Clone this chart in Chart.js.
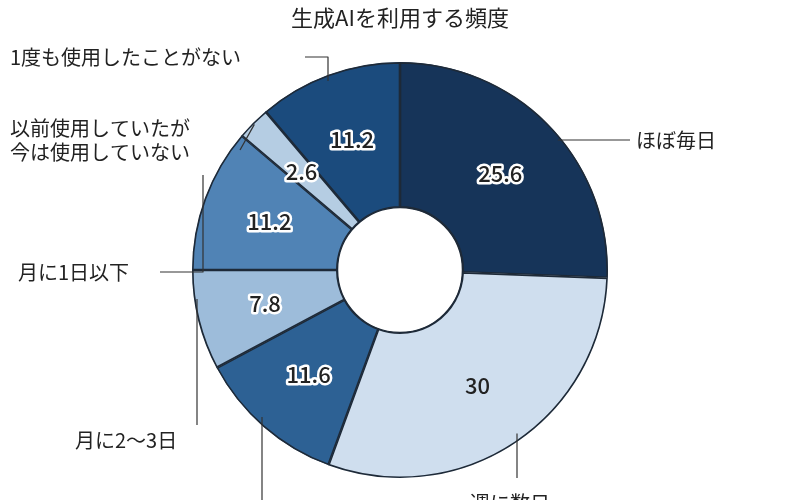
<!DOCTYPE html>
<html><head><meta charset="utf-8">
<script src="https://cdn.jsdelivr.net/npm/chart.js@4"></script>
<style>body{margin:0;background:#fff}#w{width:800px;height:500px}</style>
</head><body><div id="w"><canvas id="c"></canvas></div>
<script>
const categories=["ほぼ毎日","週に数日","週に1日","月に2〜3日","月に1日以下","以前使用していたが\n今は使用していない","1度も使用したことがない"];
const values=[25.6,30,11.6,7.8,11.2,2.6,11.2];
const colors=["#163459","#cfdeee","#2d6194","#9dbcda","#5083b5","#b5cde3","#1b4b7d"];
const titleText='生成AIを利用する頻度';
const F='"Noto Sans CJK JP","Noto Sans",sans-serif';
const labelPos=[
 {t:[636,140,'left'],p:[[630,140]]},
 {t:[470,503,'left'],p:[[517,478]]},
 {t:[230,515,'left'],p:[[262,500]]},
 {t:[75,440,'left'],p:[[197,425]]},
 {t:[18,272,'left'],p:[[203,272],[160,272]]},
 {t:[10,128,'left'],p:[[240,150]]},
 {t:[10,57,'left'],p:[[328,57],[305,57]]}
];
const plug={id:'lab',afterDatasetsDraw(ch){
 const ctx=ch.ctx, meta=ch.getDatasetMeta(0);
 ctx.save();
 ctx.font='22px '+F;ctx.fillStyle='#222';ctx.textAlign='center';ctx.textBaseline='middle';
 ctx.fillText(titleText,400,18);
 meta.data.forEach((a,i)=>{
  const mid=(a.startAngle+a.endAngle)/2;
  const rm=(a.innerRadius+a.outerRadius)/2+4;
  const x=a.x+Math.cos(mid)*rm, y=a.y+Math.sin(mid)*rm;
  ctx.font='500 22px '+F; ctx.textAlign='center'; ctx.textBaseline='middle';
  if(i!==1){ctx.lineWidth=5;ctx.strokeStyle='#fff';ctx.lineJoin='round';ctx.strokeText(String(values[i]),x,y);}
  ctx.fillStyle='#222';ctx.fillText(String(values[i]),x,y);
  const L=labelPos[i]; const ro=a.outerRadius-2;
  let sx=a.x+Math.cos(mid)*ro, sy=a.y+Math.sin(mid)*ro;
  const f=L.p[0];
  if(i===0){sy=f[1];sx=a.x+Math.sqrt(Math.max(0,ro*ro-(sy-a.y)**2))-2;}
  else if(i===4){sx=f[0];sy=175;}
  else if(i===6){sx=f[0];sy=a.y-Math.sqrt(Math.max(0,ro*ro-(sx-a.x)**2))+4;}
  else if(i===1||i===2||i===3){sx=f[0];sy=a.y+Math.sqrt(Math.max(0,ro*ro-(sx-a.x)**2))-6;}
  ctx.strokeStyle='#333';ctx.lineWidth=1.2;ctx.beginPath();ctx.moveTo(sx,sy);
  L.p.forEach(q=>ctx.lineTo(q[0],q[1]));ctx.stroke();
  ctx.fillStyle='#222';ctx.font='20px '+F;ctx.textAlign=L.t[2];
  categories[i].split('\n').forEach((s,k)=>ctx.fillText(s,L.t[0],L.t[1]+k*24));
 });
 ctx.restore();
}};
new Chart(document.getElementById('c'),{type:'doughnut',
 data:{labels:categories,datasets:[{data:values,backgroundColor:colors,borderColor:'#1e2a38',borderWidth:1.3,borderAlign:'inner'}]},
 options:{responsive:true,maintainAspectRatio:false,animation:false,cutout:'30%',
  layout:{padding:{top:62,bottom:22}},
  plugins:{legend:{display:false},tooltip:{enabled:false},title:{display:false}}},
 plugins:[plug,{id:'hole',afterDatasetsDraw(ch){const a=ch.getDatasetMeta(0).data[0];const c=ch.ctx;c.save();c.beginPath();c.arc(a.x,a.y,a.innerRadius,0,Math.PI*2);c.strokeStyle='#1e2a38';c.lineWidth=1.3;c.stroke();c.restore();}}]
});
</script></body></html>
